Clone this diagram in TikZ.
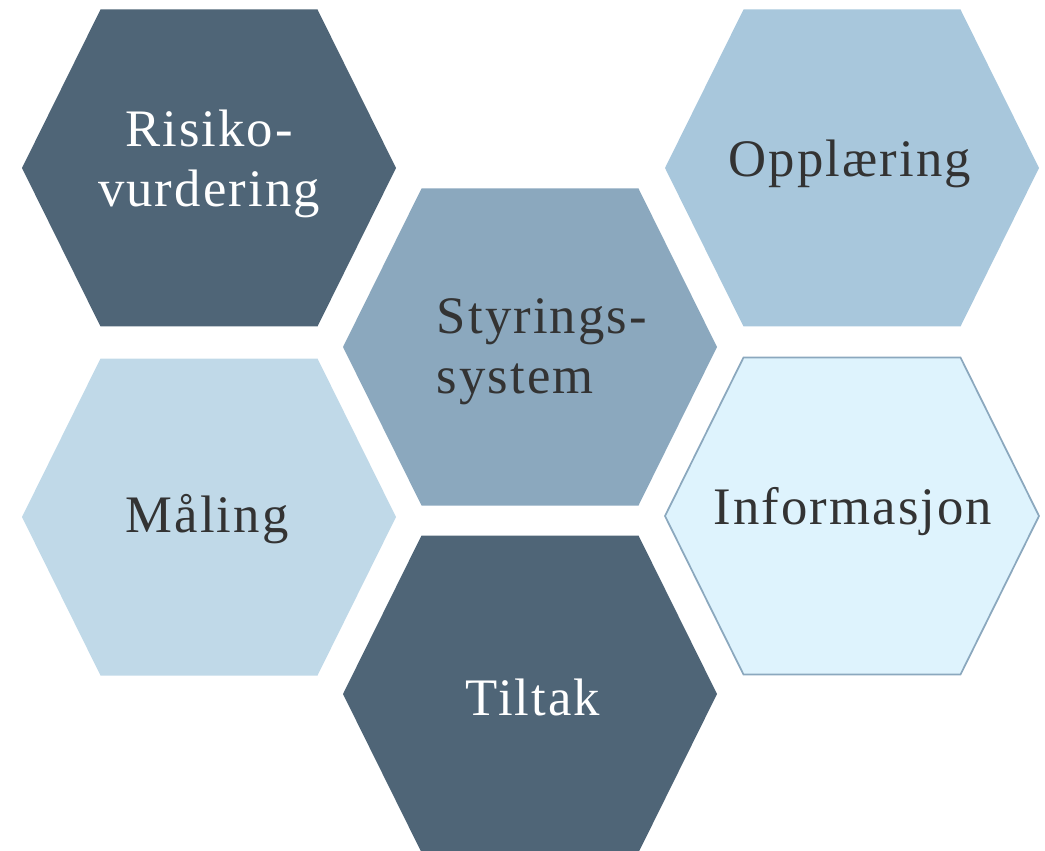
\documentclass[tikz,border=0pt]{standalone}
\usepackage{fontspec}
\setmainfont{Liberation Serif}[LetterSpace=4]
\usepackage{tikz}

\definecolor{hexdark}{HTML}{4F6577}
\definecolor{hexmid}{HTML}{8BA8BE}
\definecolor{hexlight}{HTML}{A8C7DC}
\definecolor{hexpale}{HTML}{C0D9E8}
\definecolor{hexice}{HTML}{DEF3FD}
\definecolor{hextext}{HTML}{333333}

% flat-topped hexagon round a centre
\newcommand{\hexpath}[1]{(#1) +(-187,0) -- +(-108.5,-158.5) -- +(108.5,-158.5) -- +(187,0) -- +(108.5,158.5) -- +(-108.5,158.5) -- cycle}

\tikzset{
    hexlabel/.style={font=\fontsize{30}{34}\selectfont, align=center, inner sep=0pt},
    onlight/.style={hexlabel, text=hextext},
    ondark/.style={hexlabel, text=white}
}

\begin{document}
\begin{tikzpicture}[x=0.02cm, y=-0.02cm]
        \useasboundingbox (0,0) rectangle (1045,851);
        \coordinate (risiko) at (209,168);
        \coordinate (opplaring) at (852,168);
        \coordinate (styring) at (530,347);
        \coordinate (maling) at (209,517);
        \coordinate (info) at (852,516);
        \coordinate (tiltak) at (530,694);
        \fill[hexdark] \hexpath{risiko};
        \fill[hexlight] \hexpath{opplaring};
        \fill[hexmid] \hexpath{styring};
        \fill[hexpale] \hexpath{maling};
        \filldraw[fill=hexice, draw=hexmid, line width=1pt] \hexpath{info};
        \fill[hexdark] \hexpath{tiltak};
        \node[ondark] (risikotxt) at (209,164) {Risiko-\\vurdering};
        \node[onlight] (opplaringtxt) at (850,164) {Opplæring};
        \node[onlight, align=left] (styringtxt) at (542,352) {Styrings-\\system};
        \node[onlight] (malingtxt) at (207,519) {Måling};
        \node[onlight] (infotxt) at (853,512) {Informasjon};
        \node[ondark] (tiltaktxt) at (533,697) {Tiltak};
    \end{tikzpicture}
\end{document}
